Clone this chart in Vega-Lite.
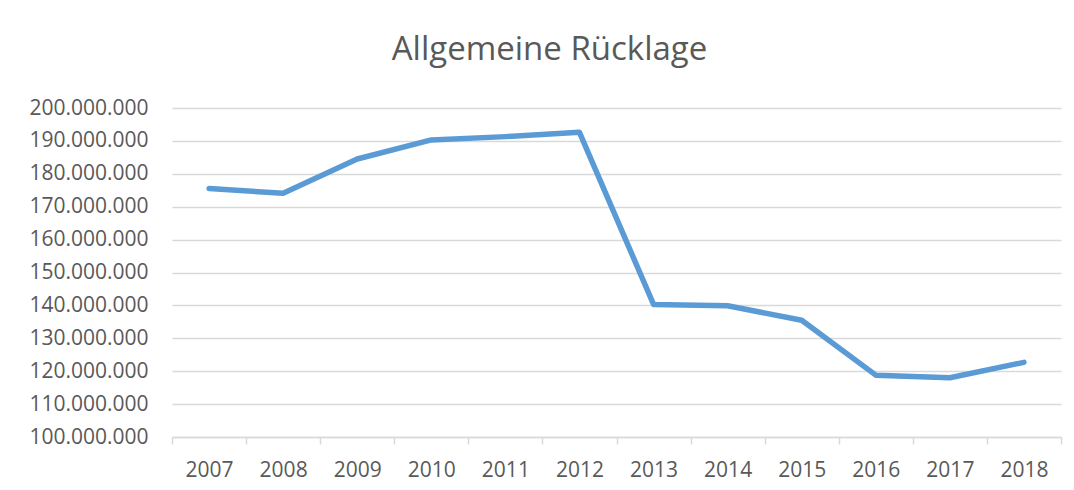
{
  "$schema": "https://vega.github.io/schema/vega-lite/v6.json",
  "autosize": {"type": "none"},
  "width": 889,
  "height": 329,
  "padding": {"left": 172, "top": 108, "right": 13, "bottom": 53},
  "background": "white",
  "config": {
    "locale": {"number": {"decimal": ",", "thousands": ".", "grouping": [3], "currency": ["", " €"]}},
    "view": {"stroke": null},
    "font": "Open Sans",
    "axisY": {
      "values": [100000000, 110000000, 120000000, 130000000, 140000000, 150000000, 160000000, 170000000, 180000000, 190000000, 200000000],
      "format": ",d",
      "title": null,
      "domain": false,
      "ticks": false,
      "grid": true,
      "gridColor": "#d9d9d9",
      "gridWidth": 1.5,
      "labelOverlap": false,
      "labelPadding": 24,
      "labelFontSize": 21,
      "labelColor": "#595959",
      "labelFont": "Open Sans"
    }
  },
  "title": {
    "text": "Allgemeine Rücklage",
    "anchor": "middle",
    "dx": -67,
    "offset": 30,
    "fontSize": 33,
    "fontWeight": "normal",
    "color": "#595959",
    "font": "Open Sans"
  },
  "data": {
    "values": [
      {"Jahr": 2007, "Ruecklage": 175500000},
      {"Jahr": 2008, "Ruecklage": 174100000},
      {"Jahr": 2009, "Ruecklage": 184500000},
      {"Jahr": 2010, "Ruecklage": 190300000},
      {"Jahr": 2011, "Ruecklage": 191300000},
      {"Jahr": 2012, "Ruecklage": 192600000},
      {"Jahr": 2013, "Ruecklage": 140300000},
      {"Jahr": 2014, "Ruecklage": 139900000},
      {"Jahr": 2015, "Ruecklage": 135500000},
      {"Jahr": 2016, "Ruecklage": 118800000},
      {"Jahr": 2017, "Ruecklage": 118000000},
      {"Jahr": 2018, "Ruecklage": 122700000}
    ]
  },
  "resolve": {"axis": {"x": "independent"}},
  "layer": [
    {
      "mark": {"type": "line", "opacity": 0},
      "encoding": {
        "x": {
          "field": "Jahr",
          "type": "quantitative",
          "scale": {"domain": [2006.5, 2018.5], "nice": false, "zero": false},
          "axis": {
            "orient": "bottom",
            "values": [2006.5, 2007.5, 2008.5, 2009.5, 2010.5, 2011.5, 2012.5, 2013.5, 2014.5, 2015.5, 2016.5, 2017.5, 2018.5],
            "labels": false,
            "title": null,
            "grid": false,
            "domain": true,
            "domainColor": "#d9d9d9",
            "domainWidth": 1.5,
            "ticks": true,
            "tickColor": "#d9d9d9",
            "tickWidth": 1.5,
            "tickSize": 7
          }
        },
        "y": {
          "field": "Ruecklage",
          "type": "quantitative",
          "scale": {"domain": [100000000, 200000000], "nice": false, "zero": false}
        }
      }
    },
    {
      "mark": {"type": "line", "color": "#5B9BD5", "strokeWidth": 5.5, "strokeCap": "round", "strokeJoin": "round"},
      "encoding": {
        "x": {
          "field": "Jahr",
          "type": "quantitative",
          "axis": {
            "orient": "bottom",
            "values": [2007, 2008, 2009, 2010, 2011, 2012, 2013, 2014, 2015, 2016, 2017, 2018],
            "format": "d",
            "title": null,
            "grid": false,
            "domain": false,
            "ticks": false,
            "labelOverlap": false,
            "labelPadding": 22,
            "labelFontSize": 21,
            "labelColor": "#595959",
            "labelFont": "Open Sans"
          }
        },
        "y": {"field": "Ruecklage", "type": "quantitative"}
      }
    }
  ]
}
